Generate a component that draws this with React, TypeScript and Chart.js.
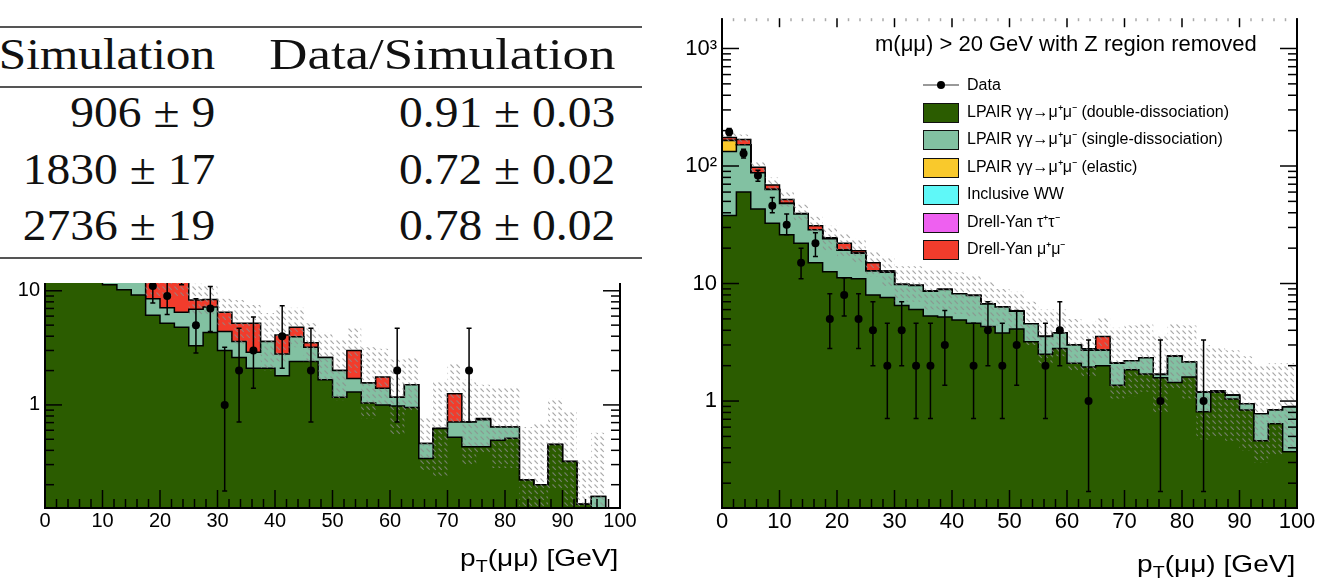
import React, { useEffect, useRef } from 'react';
import { Chart, registerables } from 'chart.js';
Chart.register(...registerables);

// ---------------- shared binning ----------------
const binLowEdges = [0, 2.5, 5, 7.5, 10, 12.5, 15, 17.5, 20, 22.5, 25, 27.5, 30, 32.5, 35, 37.5, 40, 42.5, 45, 47.5, 50, 52.5, 55, 57.5, 60, 62.5, 65, 67.5, 70, 72.5, 75, 77.5, 80, 82.5, 85, 87.5, 90, 92.5, 95, 97.5];
const BIN_WIDTH = 2.5;
const X_MAX = 100;
const xTickValues = [0, 10, 20, 30, 40, 50, 60, 70, 80, 90, 100];
const xTickLabels = ['0', '10', '20', '30', '40', '50', '60', '70', '80', '90', '100'];

// ---------------- table ----------------
const tableHeaders = ['Simulation', 'Data/Simulation'];
const tableSimulation = ['906 ± 9', '1830 ± 17', '2736 ± 19'];
const tableRatio = ['0.91 ± 0.03', '0.72 ± 0.02', '0.78 ± 0.02'];

// ---------------- right chart (m(μμ) > 20 GeV, Z removed) ----------------
const rDoubleDiss = [38, 60, 43, 32.5, 26, 22, 15, 12.6, 11.2, 11, 8, 7.6, 6.5, 6, 5.3, 5.2, 4.9, 4.6, 4.3, 3.8, 4.1, 3.2, 2.5, 2.8, 2.1, 1.95, 2.0, 1.36, 1.85, 1.7, 1.58, 1.44, 1.6, 0.81, 1.19, 1.04, 0.84, 0.46, 0.64, 0.37];
const rSingleDiss = [95, 92, 44.6, 30.5, 22, 17, 13.7, 11.4, 8, 7.1, 4.8, 4.9, 3.3, 3.6, 3.3, 3.7, 3.3, 3.3, 2.4, 2.5, 1.7, 1.35, 1.05, 1.0, 0.9, 0.75, 0.7, 0.74, 0.35, 0.63, 0.1, 0.96, 0.55, 0.38, 0.02, 0.08, 0.11, 0.32, 0.2, 0.52];
const rElastic = [32, 0, 0, 0, 0, 0, 0, 0, 0, 0, 0, 0, 0, 0, 0, 0, 0, 0, 0, 0, 0, 0, 0, 0, 0, 0, 0, 0, 0, 0, 0, 0, 0, 0, 0, 0, 0, 0, 0, 0];
const rInclusiveWW = [0, 0, 0, 0, 0, 0, 0, 0, 0, 0, 0, 0, 0, 0, 0, 0, 0, 0, 0, 0, 0, 0, 0, 0, 0, 0.08, 0, 0, 0, 0, 0, 0, 0, 0, 0, 0, 0, 0, 0, 0];
const rDYtautau = [0, 0, 0, 0, 0, 0, 0, 0, 0, 0, 0, 0.3, 0, 0, 0, 0, 0, 0, 0, 0, 0, 0, 0, 0, 0, 0, 0, 0, 0, 0, 0, 0, 0, 0, 0, 0, 0, 0, 0, 0];
const rDYmumu = [10, 16, 10, 6, 4, 0.4, 2.3, 0.5, 2.8, 0.9, 2.2, 0, 0, 0, 0, 0, 0, 0, 0, 0, 0, 0, 0, 0, 0, 0, 0.85, 0, 0, 0, 0, 0, 0, 0, 0, 0, 0, 0, 0, 0];
const rUncUp = [195, 185, 112, 80, 60, 47, 37, 31, 27, 24, 19, 17, 14, 14, 13, 13, 12.5, 12, 10.5, 9, 8.5, 7, 6, 6, 5, 4.6, 5.2, 4.2, 4.4, 4.5, 3.6, 4.6, 4.4, 3.0, 2.9, 2.7, 2.4, 2.0, 2.1, 2.1];
const rUncLo = [160, 150, 88, 60, 45, 34, 26, 19, 17, 15, 11.5, 9.5, 7, 7, 6, 6, 5.5, 5.2, 4.3, 4.4, 4, 3, 2.1, 2.4, 1.8, 1.6, 2.3, 1.05, 1.1, 1.2, 0.8, 1.25, 1.05, 0.47, 0.5, 0.46, 0.38, 0.3, 0.34, 0.38];
const rData = [195, 128, 83, 46, 31.6, 15, 22, 5, 8, 5, 4, 2, 4, 2, 2, 3, null, 2, 4, 2, 3, null, 2, 4, null, 1, null, null, null, null, 1, null, null, 1, null, null, null, null, null, null];
const rDataLo = [181, 117, 74, 40, 26, 11, 17, 2.8, 5.3, 2.8, 2.0, 0.71, 2.0, 0.71, 0.71, 1.36, null, 0.71, 2.0, 0.71, 1.36, null, 0.71, 2.0, null, 0.17, null, null, null, null, 0.17, null, null, 0.17, null, null, null, null, null, null];
const rDataHi = [209, 139, 92, 54, 39, 20, 27, 8.2, 11.2, 8.2, 7.0, 4.6, 7.0, 4.6, 4.6, 5.9, null, 4.6, 7.0, 4.6, 5.9, null, 4.6, 7.0, null, 3.3, null, null, null, null, 3.3, null, null, 3.3, null, null, null, null, null, null];
const rYTickValues = [1, 10, 100, 1000];
const rYTickLabels = ['1', '10', '10²', '10³'];
const rYMin = 0.123;
const rYMax = 1810;

// ---------------- left chart ----------------
const lDoubleDiss = [30, 26, 22, 18, 11.3, 10.2, 9.2, 6.1, 5.2, 4.8, 3.3, 4.3, 3.0, 2.6, 2.1, 2.1, 1.8, 2.4, 2.4, 1.66, 1.17, 1.3, 1.04, 1.0, 0.98, 0.95, 0.34, 0.62, 0.52, 0.43, 0.43, 0.49, 0.51, 0.22, 0.2, 0.45, 0.32, 0.135, 0.1, 0];
const lSingleDiss = [15, 12, 10, 8, 8.7, 4.8, 3.8, 2.4, 1.9, 1.7, 3.6, 2.9, 1.4, 1.0, 0.8, 1.5, 1.0, 1.55, 0.8, 0.94, 0.83, 0.4, 0.52, 0.4, 0.19, 0.55, 0.12, 0, 0.19, 0.28, 0.31, 0.15, 0.13, 0, 0, 0, 0, 0, 0.058, 0];
const lDYmumu = [15, 12, 10, 9, 8, 7, 5, 4.5, 5.4, 5.5, 1.4, 1.2, 2.1, 1.6, 2.3, 0, 1.3, 0.85, 0.3, 0, 0, 1.3, 0, 0.36, 0, 0, 0, 0, 0.54, 0, 0.02, 0, 0, 0, 0, 0, 0, 0, 0, 0];
const lUncUp = [80, 70, 60, 50, 40, 32, 26, 20, 18, 14, 11.5, 11, 8.5, 8.3, 7.5, 6.4, 7.1, 7.1, 5.2, 4.3, 3.7, 4.7, 3.2, 3.1, 2.5, 2.6, 0.78, 1.6, 2.3, 1.66, 1.5, 1.45, 1.45, 0.64, 0.69, 1.15, 0.87, 0.33, 0.57, 0];
const lUncLo = [45, 38, 30, 25, 20, 16, 13, 9, 8.5, 9, 6, 6.2, 5, 3.3, 3.6, 2.0, 2.4, 3.2, 2.4, 1.6, 1.1, 1.9, 0.76, 1.0, 0.55, 0.87, 0.27, 0.24, 0.68, 0.3, 0.38, 0.28, 0.28, 0.08, 0.06, 0.18, 0.12, 0.05, 0.05, 0];
const lData = [null, null, null, null, null, null, null, 11, 9, 15, 5, 7, 1, 2, 3, null, 4, null, 2, null, null, null, null, null, 2, null, null, null, null, 2, null, null, null, null, null, null, null, null, null, null];
const lDataLo = [null, null, null, null, null, null, null, 7.8, 6.2, 11.3, 2.85, 4.4, 0.176, 0.71, 1.4, null, 2.1, null, 0.71, null, null, null, null, null, 0.71, null, null, null, null, 0.71, null, null, null, null, null, null, null, null, null, null];
const lDataHi = [null, null, null, null, null, null, null, 14.5, 12, 19.5, 8.5, 10.9, 3.2, 4.7, 5.9, null, 7.4, null, 4.7, null, null, null, null, null, 4.7, null, null, null, null, 4.7, null, null, null, null, null, null, null, null, null, null];
const lYTickValues = [1, 10];
const lYTickLabels = ['1', '10'];
const lYMin = 0.125;
const lYMax = 11.7;

// ---------------- legend ----------------
const legendTitle = 'm(μμ) > 20 GeV with Z region removed';
const legendDataLabel = 'Data';
const legendLabels = [
  'LPAIR γγ→μ⁺μ⁻ (double-dissociation)',
  'LPAIR γγ→μ⁺μ⁻ (single-dissociation)',
  'LPAIR γγ→μ⁺μ⁻ (elastic)',
  'Inclusive WW',
  'Drell-Yan τ⁺τ⁻',
  'Drell-Yan μ⁺μ⁻',
];
const C_DOUBLE = '#2b5c00';
const C_SINGLE = '#82c1a2';
const C_ELASTIC = '#f9c92c';
const C_WW = '#5ff8f8';
const C_DYTT = '#ee60f0';
const C_DYMM = '#f23c2c';
const legendColors = [C_DOUBLE, C_SINGLE, C_ELASTIC, C_WW, C_DYTT, C_DYMM];

const SANS = '"Liberation Sans", Arial, Helvetica, sans-serif';
const SERIF = '"Liberation Serif", "Times New Roman", serif';

// ---------------- helpers ----------------
function stepPoints(vals: number[]) {
  const pts = binLowEdges.map((x, i) => ({ x, y: vals[i] > 0 ? vals[i] : 1e-4 }));
  const last = vals[vals.length - 1];
  pts.push({ x: X_MAX, y: last > 0 ? last : 1e-4 });
  return pts;
}
function cumulate(components: number[][]) {
  const out: number[][] = [];
  let acc = components[0].map(() => 0);
  for (const c of components) {
    acc = acc.map((a, i) => a + c[i]);
    out.push(acc);
  }
  return out;
}
function makeHatch(): CanvasPattern | string {
  const c = document.createElement('canvas');
  c.width = 6;
  c.height = 6;
  const g = c.getContext('2d');
  if (!g) return 'rgba(160,160,160,0.3)';
  g.strokeStyle = 'rgba(140,140,140,0.75)';
  g.lineWidth = 1.1;
  g.beginPath();
  g.moveTo(0.5, 0.5);
  g.lineTo(3.8, 3.8);
  g.stroke();
  return g.createPattern(c, 'repeat') || 'rgba(160,160,160,0.3)';
}

const frameTicks = {
  id: 'frameTicks',
  afterDatasetsDraw(chart: any, _args: any, opts: any) {
    const { ctx, chartArea: a, scales } = chart;
    const xs = scales.x;
    const ys = scales.y;
    ctx.save();
    ctx.strokeStyle = '#000';
    ctx.lineWidth = 2;
    ctx.beginPath();
    ctx.moveTo(a.left, a.top);
    ctx.lineTo(a.left, a.bottom);
    ctx.lineTo(a.right, a.bottom);
    ctx.lineTo(a.right, a.top);
    ctx.stroke();
    ctx.lineWidth = 1.5;
    const seg = (x1: number, y1: number, x2: number, y2: number, col: string) => {
      ctx.strokeStyle = col;
      ctx.beginPath();
      ctx.moveTo(x1, y1);
      ctx.lineTo(x2, y2);
      ctx.stroke();
    };
    for (let v = 0; v <= X_MAX; v += 2) {
      const px = xs.getPixelForValue(v);
      const major = v % 10 === 0;
      seg(px, a.bottom, px, a.bottom - (major ? opts.xMaj : opts.xMin), '#000');
      if (opts.top) {
        seg(px, a.top, px, a.top + (major ? opts.topMaj : opts.topMin), major ? '#000' : '#aaa');
      }
    }
    const lo = Math.floor(Math.log10(ys.min));
    const hi = Math.ceil(Math.log10(ys.max));
    for (let e = lo; e <= hi; e++) {
      for (let m = 1; m <= 9; m++) {
        const v = m * Math.pow(10, e);
        if (v < ys.min || v > ys.max) continue;
        const py = ys.getPixelForValue(v);
        const len = m === 1 ? opts.yMaj : opts.yMin;
        seg(a.left, py, a.left + len, py, '#000');
        seg(a.right, py, a.right - len, py, '#000');
      }
    }
    ctx.restore();
  },
};

const errorBars = {
  id: 'errorBars',
  beforeDatasetDraw(chart: any, args: any) {
    const ds = chart.data.datasets[args.index];
    if (!ds.errorBars) return;
    const { ctx, chartArea: a } = chart;
    const xs = chart.scales.x;
    const ys = chart.scales.y;
    ctx.save();
    ctx.beginPath();
    ctx.rect(a.left, a.top, a.right - a.left, a.bottom - a.top);
    ctx.clip();
    ctx.strokeStyle = '#000';
    ctx.lineWidth = 1.5;
    for (const p of ds.data) {
      const px = xs.getPixelForValue(p.x);
      const y1 = ys.getPixelForValue(p.lo);
      const y2 = ys.getPixelForValue(p.hi);
      ctx.beginPath();
      ctx.moveTo(px, y1);
      ctx.lineTo(px, y2);
      ctx.moveTo(px - 2.5, y1);
      ctx.lineTo(px + 2.5, y1);
      ctx.moveTo(px - 2.5, y2);
      ctx.lineTo(px + 2.5, y2);
      ctx.stroke();
    }
    ctx.restore();
  },
};

type Cfg = {
  components: number[][];
  colors: string[];
  uncUp: number[];
  uncLo: number[];
  data: (number | null)[];
  dataLo: (number | null)[];
  dataHi: (number | null)[];
  yMin: number;
  yMax: number;
  yTicks: number[];
  yLabels: string[];
  fontSize: number;
  yAxisWidth: number;
  xAxisHeight: number;
  padding: any;
  pointRadius: number;
  top: boolean;
};

function buildConfig(c: Cfg): any {
  const hatch = makeHatch();
  const cum = cumulate(c.components);
  const points: any[] = [];
  c.data.forEach((v, i) => {
    if (v !== null) points.push({ x: binLowEdges[i] + BIN_WIDTH / 2, y: v, lo: c.dataLo[i], hi: c.dataHi[i] });
  });
  const datasets: any[] = [
    {
      type: 'line', label: 'Data', data: points, showLine: false, pointRadius: c.pointRadius,
      pointBackgroundColor: '#000', pointBorderColor: '#000', pointBorderWidth: 0, borderColor: '#000',
      order: 0, errorBars: true,
    },
    {
      type: 'line', label: 'unc-up', data: stepPoints(c.uncUp), stepped: true, borderWidth: 0,
      borderColor: 'rgba(0,0,0,0)', pointRadius: 0, fill: '+1', backgroundColor: hatch, order: 1,
    },
    {
      type: 'line', label: 'unc-lo', data: stepPoints(c.uncLo), stepped: true, borderWidth: 0,
      borderColor: 'rgba(0,0,0,0)', pointRadius: 0, fill: false, order: 2,
    },
  ];
  cum.forEach((vals, k) => {
    datasets.push({
      type: 'line', label: 'stack' + k, data: stepPoints(vals), stepped: true, borderColor: '#000',
      borderWidth: 1.5, backgroundColor: c.colors[k], fill: 'start', pointRadius: 0, order: 3 + k,
    });
  });
  const font = { family: SANS, size: c.fontSize };
  return {
    type: 'line',
    data: { datasets },
    options: {
      responsive: false, animation: false, devicePixelRatio: 1, events: [],
      layout: { padding: c.padding, autoPadding: false },
      plugins: {
        legend: { display: false }, tooltip: { enabled: false }, title: { display: false },
        frameTicks: { xMaj: 18, xMin: 9, yMaj: 17, yMin: 9, top: c.top, topMaj: 9, topMin: 3 },
      },
      scales: {
        x: {
          type: 'linear', min: 0, max: X_MAX,
          afterBuildTicks: (s: any) => { s.ticks = xTickValues.map((v) => ({ value: v })); },
          ticks: {
            callback: (v: number) => { const i = xTickValues.indexOf(v); return i >= 0 ? xTickLabels[i] : null; },
            font, color: '#000', padding: 1, maxRotation: 0, autoSkip: false,
          },
          grid: { display: false, drawTicks: false }, border: { display: false },
          afterFit: (s: any) => { s.height = c.xAxisHeight; },
        },
        y: {
          type: 'logarithmic', min: c.yMin, max: c.yMax,
          afterBuildTicks: (s: any) => { s.ticks = c.yTicks.map((v) => ({ value: v })); },
          ticks: {
            callback: (v: number) => { const i = c.yTicks.indexOf(v); return i >= 0 ? c.yLabels[i] : null; },
            font, color: '#000', padding: 5, autoSkip: false,
          },
          grid: { display: false, drawTicks: false }, border: { display: false },
          afterFit: (s: any) => { s.width = c.yAxisWidth; },
        },
      },
    },
    plugins: [errorBars, frameTicks],
  };
}

function HistChart(props: { cfg: Cfg; left: number; top: number; width: number; height: number }) {
  const ref = useRef<HTMLCanvasElement | null>(null);
  useEffect(() => {
    if (!ref.current) return;
    const chart = new Chart(ref.current, buildConfig(props.cfg));
    return () => chart.destroy();
  }, []);
  return (
    <canvas
      ref={ref}
      width={props.width}
      height={props.height}
      style={{ position: 'absolute', left: props.left, top: props.top, width: props.width, height: props.height }}
    />
  );
}

const W = 1324;

function AxisTitle(props: { right: number; baseline: number }) {
  const fs = 24;
  return (
    <div
      style={{
        position: 'absolute', right: W - props.right, top: props.baseline - 0.8465 * fs, fontFamily: SANS,
        fontSize: fs, lineHeight: fs + 'px', whiteSpace: 'nowrap', color: '#000',
        transform: 'scaleX(1.17)', transformOrigin: 'right center',
      }}
    >
      p<span style={{ fontSize: '0.7em', position: 'relative', top: '0.35em' }}>T</span>(μμ) [GeV]
    </div>
  );
}

function SerifText(props: { text: string; right: number; baseline: number; scale: number }) {
  const fs = 44;
  return (
    <div
      style={{
        position: 'absolute', right: W - props.right, top: props.baseline - 0.8375 * fs, fontFamily: SERIF,
        fontSize: fs, lineHeight: fs + 'px', whiteSpace: 'nowrap', color: '#111',
        transform: `scaleX(${props.scale})`, transformOrigin: 'right center',
      }}
    >
      {props.text}
    </div>
  );
}

export default function App() {
  const rightCfg: Cfg = {
    components: [rDoubleDiss, rSingleDiss, rElastic, rInclusiveWW, rDYtautau, rDYmumu],
    colors: [C_DOUBLE, C_SINGLE, C_ELASTIC, C_WW, C_DYTT, C_DYMM],
    uncUp: rUncUp, uncLo: rUncLo, data: rData, dataLo: rDataLo, dataHi: rDataHi,
    yMin: rYMin, yMax: rYMax, yTicks: rYTickValues, yLabels: rYTickLabels,
    fontSize: 22, yAxisWidth: 62, xAxisHeight: 72, padding: { top: 8, right: 27, left: 0, bottom: 0 },
    pointRadius: 4, top: true,
  };
  const leftCfg: Cfg = {
    components: [lDoubleDiss, lSingleDiss, lDYmumu],
    colors: [C_DOUBLE, C_SINGLE, C_DYMM],
    uncUp: lUncUp, uncLo: lUncLo, data: lData, dataLo: lDataLo, dataHi: lDataHi,
    yMin: lYMin, yMax: lYMax, yTicks: lYTickValues, yLabels: lYTickLabels,
    fontSize: 20, yAxisWidth: 45, xAxisHeight: 72, padding: { top: 21, right: 40, left: 0, bottom: 0 },
    pointRadius: 4, top: false,
  };
  const rowBaselines = [128, 185, 241];
  const legendRowCenters = [113, 140, 168, 195, 223, 250];
  return (
    <div style={{ position: 'fixed', left: 0, top: 0, width: W, height: 580, overflow: 'hidden', background: '#fff' }}>
      {/* table */}
      <div style={{ position: 'absolute', left: 0, top: 26, width: 642, height: 2, background: '#555' }} />
      <div style={{ position: 'absolute', left: 0, top: 86, width: 642, height: 1.5, background: '#555' }} />
      <div style={{ position: 'absolute', left: 0, top: 257, width: 642, height: 2, background: '#555' }} />
      <SerifText text={tableHeaders[0]} right={215} baseline={70} scale={1.12} />
      <SerifText text={tableHeaders[1]} right={615} baseline={70} scale={1.2} />
      {tableSimulation.map((t, i) => (
        <SerifText key={'s' + i} text={t} right={215} baseline={rowBaselines[i]} scale={1.08} />
      ))}
      {tableRatio.map((t, i) => (
        <SerifText key={'r' + i} text={t} right={615} baseline={rowBaselines[i]} scale={1.08} />
      ))}

      <HistChart cfg={leftCfg} left={0} top={262} width={660} height={318} />
      <HistChart cfg={rightCfg} left={660} top={0} width={664} height={580} />

      <AxisTitle right={618} baseline={566} />
      <AxisTitle right={1295} baseline={572} />

      {/* legend */}
      <div style={{ position: 'absolute', left: 875, top: 52 - 0.8465 * 22, fontFamily: SANS, fontSize: 22, lineHeight: '22px', whiteSpace: 'nowrap', color: '#000' }}>
        {legendTitle}
      </div>
      <div style={{ position: 'absolute', left: 923, top: 84, width: 36, height: 2, background: '#999' }} />
      <div style={{ position: 'absolute', left: 937, top: 81, width: 8, height: 8, borderRadius: 4, background: '#000' }} />
      <div style={{ position: 'absolute', left: 967, top: 75, fontFamily: SANS, fontSize: 16, lineHeight: '20px', whiteSpace: 'nowrap', color: '#000' }}>
        {legendDataLabel}
      </div>
      {legendLabels.map((t, i) => (
        <React.Fragment key={'l' + i}>
          <div
            style={{
              position: 'absolute', left: 923, top: legendRowCenters[i] - 10, width: 36, height: 20,
              boxSizing: 'border-box', border: '1.5px solid #111', background: legendColors[i],
            }}
          />
          <div
            style={{
              position: 'absolute', left: 967, top: legendRowCenters[i] - 11, fontFamily: SANS, fontSize: 16,
              lineHeight: '20px', whiteSpace: 'nowrap', color: '#000',
            }}
          >
            {t}
          </div>
        </React.Fragment>
      ))}
    </div>
  );
}
